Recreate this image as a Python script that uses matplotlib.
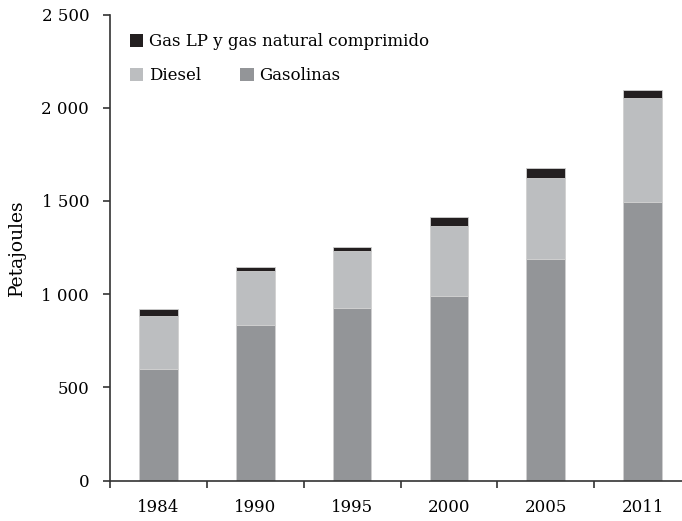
import numpy as np
import matplotlib
matplotlib.use("Agg")
import matplotlib.pyplot as plt
from matplotlib.patches import Patch
from matplotlib.ticker import FixedLocator, FuncFormatter

# datos (petajoules)
years = ["1984", "1990", "1995", "2000", "2005", "2011"]
gasolinas = [600, 836, 927, 991, 1190, 1496]
diesel = [283, 290, 303, 374, 435, 555]
gas_lp = [38, 18, 21, 49, 52, 42]

col_gasolinas = "#939598"
col_diesel = "#bcbec0"
col_lp = "#231f20"

plt.rcParams["font.family"] = ["DejaVu Serif"]
plt.rcParams["font.size"] = 12

fig = plt.figure(figsize=(6.82, 5.21), dpi=100)
ax = fig.add_axes([110 / 682, 40.5 / 521, 581 / 682, 466 / 521])

x = np.arange(len(years))
w = 0.40
g = np.array(gasolinas)
d = np.array(diesel)
lp = np.array(gas_lp)
ax.bar(x, g, w, color=col_gasolinas, edgecolor="#d0d0d0", linewidth=0.6)
ax.bar(x, d, w, bottom=g, color=col_diesel, edgecolor="#d0d0d0", linewidth=0.6)
ax.bar(x, lp, w, bottom=g + d, color=col_lp, edgecolor="#d0d0d0", linewidth=0.6)

ax.set_xlim(-0.5, len(years) - 0.5)
ax.set_ylim(0, 2500)
ax.set_yticks(np.arange(0, 2501, 500))
ax.yaxis.set_major_formatter(FuncFormatter(lambda v, p: f"{int(v):,}".replace(",", " ")))

# ticks entre categorias, etiquetas centradas
ax.xaxis.set_major_locator(FixedLocator(np.arange(-0.5, len(years), 1.0)))
ax.xaxis.set_major_formatter(FuncFormatter(lambda v, p: ""))
ax.xaxis.set_minor_locator(FixedLocator(x))
ax.set_xticklabels(years, minor=True)
ax.tick_params(axis="x", which="minor", length=0, pad=13)
ax.tick_params(axis="x", which="major", direction="out", length=5, width=1.2, color="#333333")
ax.tick_params(axis="y", direction="out", length=5, width=1.2, color="#333333", pad=10)

for s in ["top", "right"]:
    ax.spines[s].set_visible(False)
for s in ["left", "bottom"]:
    ax.spines[s].set_color("#333333")
    ax.spines[s].set_linewidth(1.2)

ax.set_ylabel("Petajoules", fontsize=13.5)
ax.yaxis.set_label_coords(26 / 682, 1 - 247.5 / 521, transform=fig.transFigure)

# leyenda en dos filas
h_lp = [Patch(facecolor=col_lp, edgecolor="none")]
h_rest = [Patch(facecolor=col_diesel, edgecolor="none"),
          Patch(facecolor=col_gasolinas, edgecolor="none")]
leg1 = ax.legend(h_lp, ["Gas LP y gas natural comprimido"], loc="center left",
                 bbox_to_anchor=(130 / 682, 1 - 42 / 521), bbox_transform=fig.transFigure,
                 frameon=False, handlelength=0.8, handleheight=0.8, handletextpad=0.35,
                 borderpad=0, borderaxespad=0)
ax.add_artist(leg1)
ax.legend(h_rest, ["Diesel", "Gasolinas"], ncol=2, loc="center left",
          bbox_to_anchor=(130 / 682, 1 - 76 / 521), bbox_transform=fig.transFigure,
          frameon=False, handlelength=0.8, handleheight=0.8, handletextpad=0.35,
          columnspacing=2.35, borderpad=0, borderaxespad=0)

fig.savefig("out.png", dpi=100)
